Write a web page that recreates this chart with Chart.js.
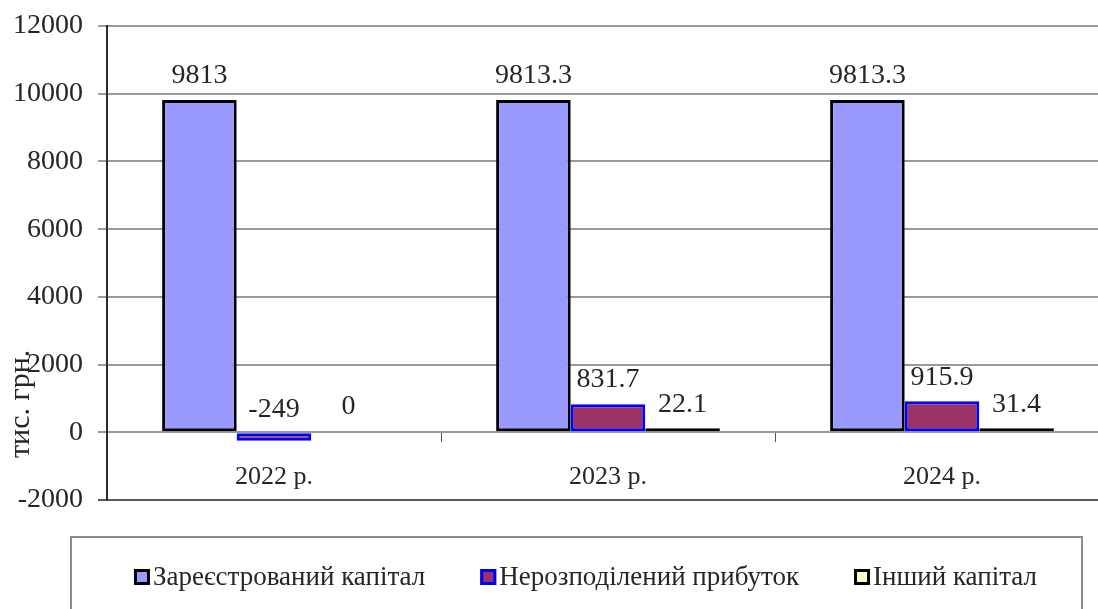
<!DOCTYPE html>
<html>
<head>
<meta charset="utf-8">
<script src="https://cdn.jsdelivr.net/npm/chart.js"></script>
<style>
  html, body { margin: 0; padding: 0; background: #fff; overflow: hidden; }
  #wrap { width: 1115px; height: 609px; }
</style>
</head>
<body>
<div id="wrap"><canvas id="capitalChart" width="1115" height="609"></canvas></div>
<script>
// --- data ---
const years = ['2022 р.', '2023 р.', '2024 р.'];
const registeredCapital = [9813, 9813.3, 9813.3];
const retainedEarnings = [-249, 831.7, 915.9];
const otherCapital = [0, 22.1, 31.4];
const seriesNames = ['Зареєстрований капітал', 'Нерозподілений прибуток', 'Інший капітал'];
const yTicks = [-2000, 0, 2000, 4000, 6000, 8000, 10000, 12000];
const yTitle = 'тис. грн.';

const serif = '"Liberation Serif", "Times New Roman", serif';
const textColor = '#262626';

// value labels above each bar (negative bars get theirs above the zero line)
const valueLabels = {
    id: 'valueLabels',
    afterDatasetsDraw(chart) {
        const ctx = chart.ctx;
        ctx.save();
        ctx.font = '28px ' + serif;
        ctx.fillStyle = textColor;
        ctx.textAlign = 'center';
        ctx.textBaseline = 'middle';
        chart.data.datasets.forEach((ds, i) => {
            chart.getDatasetMeta(i).data.forEach((bar, j) => {
                const top = Math.min(bar.y, bar.base);
                ctx.fillText(String(ds.data[j]), bar.x, top - 24);
            });
        });
        ctx.restore();
    }
};

// rotated axis title, sitting low like in the original
const axisTitle = {
    id: 'axisTitle',
    afterDraw(chart) {
        const ctx = chart.ctx;
        ctx.save();
        ctx.translate(21, 458);
        ctx.rotate(-Math.PI / 2);
        ctx.font = '30px ' + serif;
        ctx.fillStyle = textColor;
        ctx.textAlign = 'left';
        ctx.textBaseline = 'middle';
        ctx.fillText(yTitle, 0, 0);
        ctx.restore();
    }
};

// framed legend under the plot
const boxedLegend = {
    id: 'boxedLegend',
    afterDraw(chart) {
        const ctx = chart.ctx;
        const box = { left: 71, top: 537, right: 1082 };
        const size = 16, gap = 3, spacing = 55, rowY = 577;
        ctx.save();
        ctx.strokeStyle = '#8c8c8c';
        ctx.lineWidth = 2;
        ctx.beginPath();
        ctx.moveTo(box.left, chart.height + 5);
        ctx.lineTo(box.left, box.top);
        ctx.lineTo(box.right, box.top);
        ctx.lineTo(box.right, chart.height + 5);
        ctx.stroke();

        ctx.font = '27px ' + serif;
        ctx.textBaseline = 'middle';
        ctx.textAlign = 'left';
        const items = chart.data.datasets.map(ds => ({
            ds: ds,
            w: size + gap + ctx.measureText(ds.label).width
        }));
        const total = items.reduce((s, it) => s + it.w, 0) + spacing * (items.length - 1);
        let x = (box.left + box.right) / 2 - total / 2 + 9;
        items.forEach(it => {
            ctx.fillStyle = it.ds.legendFill;
            ctx.fillRect(x, rowY - size / 2, size, size);
            ctx.strokeStyle = it.ds.legendBorder;
            ctx.lineWidth = 3;
            ctx.strokeRect(x + 1.5, rowY - size / 2 + 1.5, size - 3, size - 3);
            ctx.fillStyle = textColor;
            ctx.fillText(it.ds.label, x + size + gap, rowY + 1);
            x += it.w + spacing;
        });
        ctx.restore();
    }
};

document.addEventListener('DOMContentLoaded', function () {
    const ctx = document.getElementById('capitalChart').getContext('2d');

    new Chart(ctx, {
        type: 'bar',
        data: {
            labels: years,
            datasets: [
                {
                    label: seriesNames[0],
                    data: registeredCapital,
                    backgroundColor: '#9999ff',
                    borderColor: '#000000',
                    borderWidth: 3,
                    legendFill: '#9999ff',
                    legendBorder: '#000000'
                },
                {
                    label: seriesNames[1],
                    data: retainedEarnings,
                    backgroundColor: '#993366',
                    borderColor: '#0000ff',
                    borderWidth: 3,
                    legendFill: '#993366',
                    legendBorder: '#0000ff'
                },
                {
                    label: seriesNames[2],
                    data: otherCapital,
                    backgroundColor: c => c.raw === 0 ? 'rgba(0,0,0,0)' : '#ffffcc',
                    borderColor: '#000000',
                    borderWidth: c => c.raw === 0 ? 0 : 3,
                    minBarLength: 4,
                    legendFill: '#ffffcc',
                    legendBorder: '#000000'
                }
            ]
        },
        options: {
            responsive: false,
            animation: false,
            layout: { padding: { left: 0, top: 26, right: 6, bottom: 109 } },
            datasets: {
                bar: { categoryPercentage: 0.67, barPercentage: 1.0, borderSkipped: false }
            },
            scales: {
                x: {
                    position: { y: 0 },
                    grid: {
                        offset: true,
                        drawOnChartArea: false,
                        drawTicks: true,
                        tickLength: 9,
                        color: '#555555',
                        lineWidth: 1
                    },
                    border: { display: true, color: '#9a9a9a', width: 2 },
                    ticks: {
                        padding: 20,
                        font: { family: serif, size: 26 },
                        color: textColor
                    },
                    afterFit(scale) {
                        scale.height = 0;
                        scale.paddingLeft = 0;
                        scale.paddingRight = 0;
                    }
                },
                y: {
                    min: -2000,
                    max: 12000,
                    afterBuildTicks(scale) { scale.ticks = yTicks.map(v => ({ value: v })); },
                    grid: {
                        color: c => c.tick && c.tick.value === -2000 ? '#5a5a5a' : '#9a9a9a',
                        lineWidth: 2,
                        tickLength: 9,
                        drawTicks: true
                    },
                    border: { display: true, color: '#2b2b2b', width: 2 },
                    ticks: {
                        padding: 15,
                        font: { family: serif, size: 28 },
                        color: textColor,
                        callback: v => String(v)
                    },
                    afterFit(scale) {
                        scale.width = 107;
                        scale.paddingTop = 0;
                        scale.paddingBottom = 0;
                    }
                }
            },
            plugins: {
                legend: { display: false },
                tooltip: { enabled: false }
            }
        },
        plugins: [valueLabels, axisTitle, boxedLegend]
    });
});
</script>
</body>
</html>
